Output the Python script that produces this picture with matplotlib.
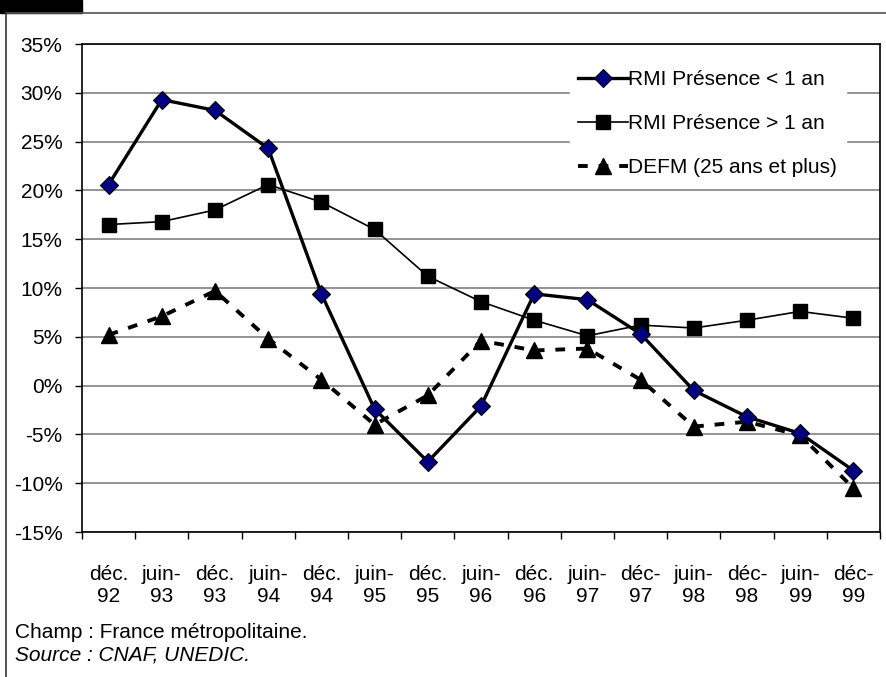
import numpy as np
import matplotlib
matplotlib.use("Agg")
import matplotlib.pyplot as plt
from matplotlib.lines import Line2D
from matplotlib.patches import Rectangle

plt.rcParams["font.family"] = ["Liberation Sans", "DejaVu Sans"]

# catégories (semestres)
categories = ["déc.\n92", "juin-\n93", "déc.\n93", "juin-\n94", "déc.\n94",
              "juin-\n95", "déc.\n95", "juin-\n96", "déc.\n96", "juin-\n97",
              "déc-\n97", "juin-\n98", "déc-\n98", "juin-\n99", "déc-\n99"]

# évolutions en %
rmi_moins_1an = [20.6, 29.3, 28.2, 24.3, 9.4, -2.4, -7.8, -2.1, 9.4, 8.8,
                 5.3, -0.5, -3.2, -4.9, -8.7]
rmi_plus_1an = [16.5, 16.8, 18.0, 20.6, 18.8, 16.0, 11.2, 8.6, 6.7, 5.1,
                6.2, 5.9, 6.7, 7.6, 6.9]
defm = [5.2, 7.1, 9.7, 4.8, 0.6, -4.0, -1.0, 4.6, 3.6, 3.8,
        0.6, -4.2, -3.7, -5.1, -10.5]

yticks = [35, 30, 25, 20, 15, 10, 5, 0, -5, -10, -15]
ytick_labels = [f"{v}%" for v in yticks]

fs = 15

fig = plt.figure(figsize=(8.87, 6.77), dpi=100)
ax = fig.add_axes([82 / 887, 1 - 532 / 677, (880 - 82) / 887, (532 - 44) / 677])

x = np.arange(len(categories))

ax.plot(x, rmi_moins_1an, color="black", lw=2.4, marker="D", ms=9,
        markerfacecolor="#000080", markeredgecolor="black", mew=0.8,
        label="RMI Présence < 1 an", zorder=4)
ax.plot(x, rmi_plus_1an, color="black", lw=1.2, marker="s", ms=10,
        markerfacecolor="black", markeredgecolor="black",
        label="RMI Présence > 1 an", zorder=3)
ax.plot(x, defm, color="black", lw=2.8, dashes=(2.5, 2.8), marker="^", ms=11,
        markerfacecolor="black", markeredgecolor="black",
        label="DEFM (25 ans et plus)", zorder=3)

ax.set_xlim(-0.5, len(categories) - 0.5)
ax.set_ylim(-15, 35)
ax.set_yticks(yticks)
ax.set_yticklabels(ytick_labels, fontsize=fs)
ax.set_xticks(x)
ax.set_xticklabels(categories, fontsize=fs, linespacing=1.2)
ax.set_xticks(np.arange(-0.5, len(categories)), minor=True)
ax.tick_params(axis="x", which="major", length=0, pad=24)
ax.tick_params(axis="x", which="minor", length=5, direction="out", width=1)
ax.tick_params(axis="y", length=5, direction="out", width=1, pad=9)

ax.yaxis.grid(True, color="#808080", lw=1.2)
ax.set_axisbelow(True)
for s in ax.spines.values():
    s.set_color("black")
    s.set_linewidth(1.2)

leg = ax.legend(loc="upper left", bbox_to_anchor=(570 / 887, 1 - 62 / 677),
                bbox_transform=fig.transFigure, fontsize=fs, frameon=True,
                fancybox=False, edgecolor="white", facecolor="white",
                framealpha=1, handlelength=2.4, handletextpad=0.0,
                labelspacing=1.2, borderpad=0.4, borderaxespad=0)

# cadre de la page
fig.add_artist(Rectangle((0, 1 - 13 / 677), 82 / 887, 13 / 677,
                         transform=fig.transFigure, color="black"))
fig.add_artist(Line2D([6.5 / 887, 1], [1 - 13 / 677, 1 - 13 / 677],
                      transform=fig.transFigure, color="#555555", lw=1.2))
fig.add_artist(Line2D([6.5 / 887, 6.5 / 887], [0, 1 - 13 / 677],
                      transform=fig.transFigure, color="#333333", lw=1.2))

fig.text(15 / 887, 1 - 632 / 677, "Champ : France métropolitaine.",
         fontsize=fs, va="center", ha="left")
fig.text(15 / 887, 1 - 655 / 677, "Source : CNAF, UNEDIC.",
         fontsize=fs, va="center", ha="left", style="italic")

fig.savefig("out.png", dpi=100, facecolor="white")
